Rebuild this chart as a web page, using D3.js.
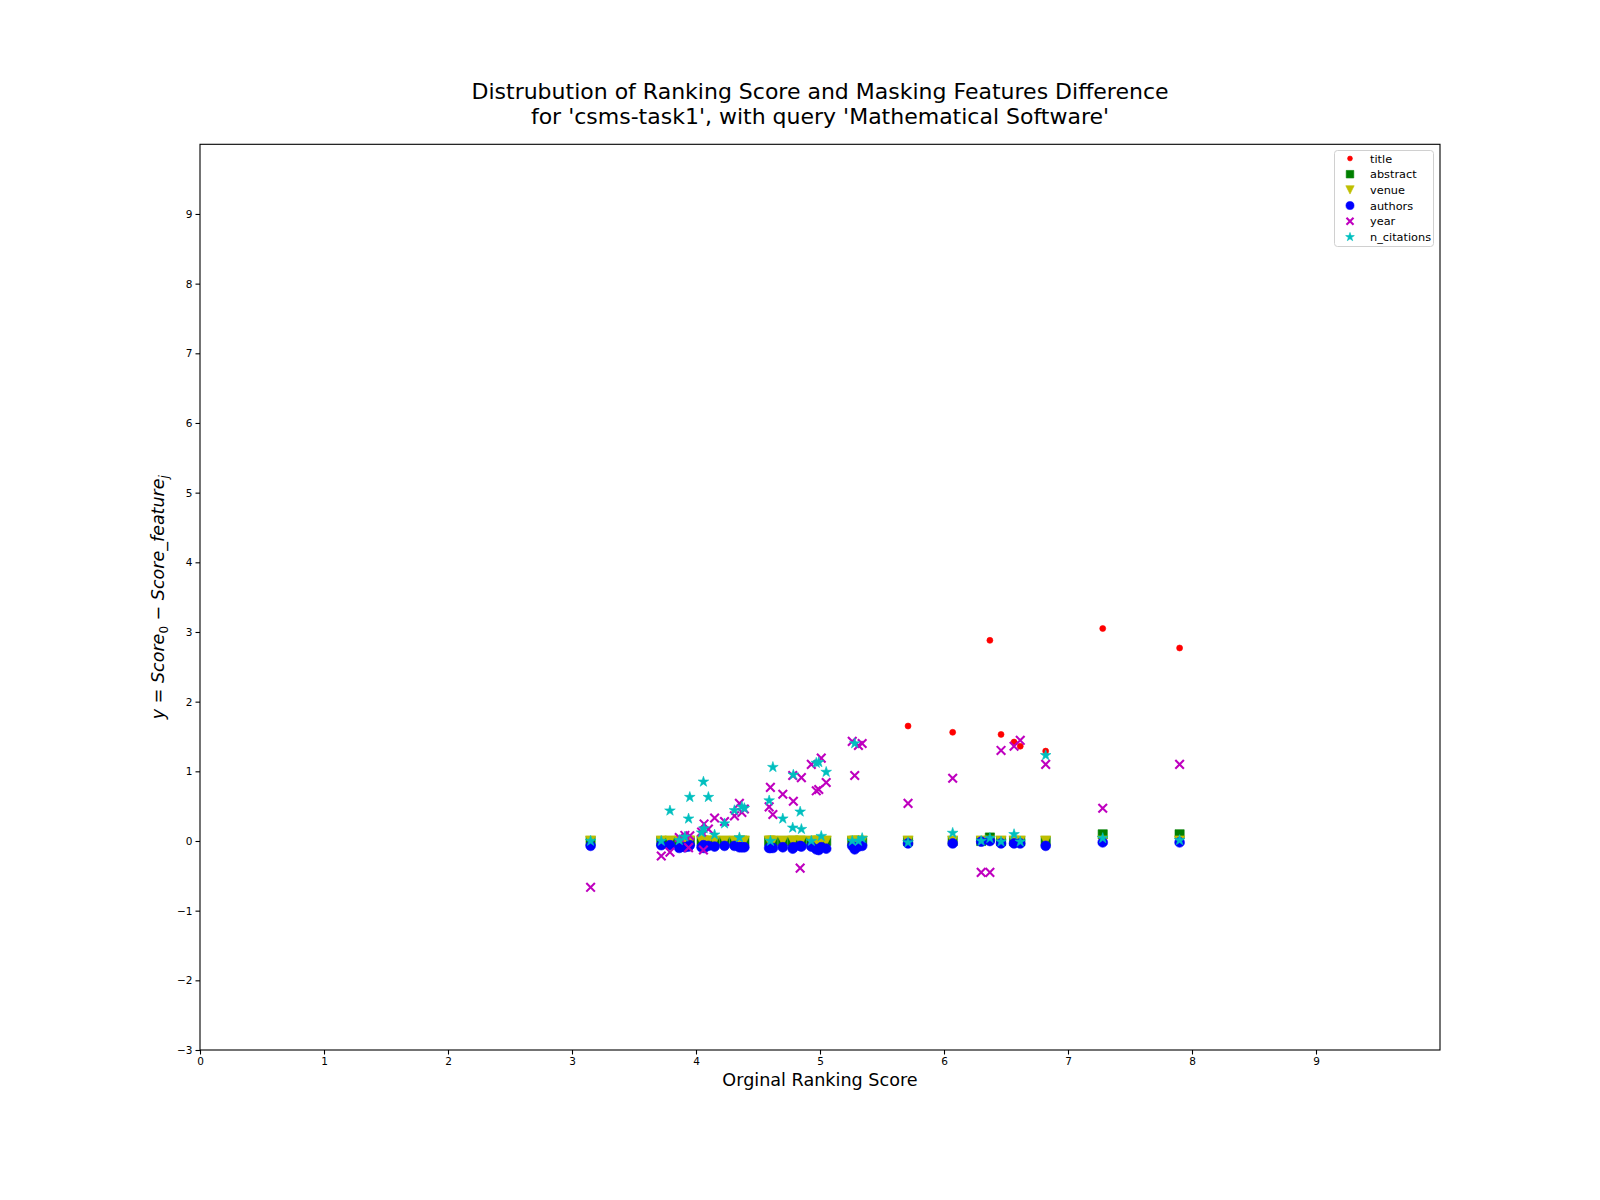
<!DOCTYPE html>
<html>
<head>
<meta charset="utf-8">
<script src="https://cdn.jsdelivr.net/npm/d3@7"></script>
<style>
  html, body { margin: 0; padding: 0; background: #fff; }
  svg text { font-family: "DejaVu Sans", sans-serif; }
</style>
</head>
<body>
<svg id="chart" width="1600" height="1200"></svg>
<script>
// ---------------- DATA ----------------
const xTicks = [0, 1, 2, 3, 4, 5, 6, 7, 8, 9];
const yTicks = [-3, -2, -1, 0, 1, 2, 3, 4, 5, 6, 7, 8, 9];

const scores = [3.15, 3.72, 3.79, 3.865, 3.91, 3.94, 3.95, 4.045, 4.06, 4.065, 4.10, 4.15, 4.23, 4.31, 4.35, 4.37, 4.39,
  4.59, 4.60, 4.62, 4.70, 4.78, 4.785, 4.84, 4.85, 4.93, 4.97, 4.99, 5.01, 5.05, 5.26, 5.28, 5.31, 5.34,
  5.71, 6.07, 6.30, 6.37, 6.46, 6.565, 6.615, 6.82, 7.28, 7.90];

const titleDiff = [0, 0, 0, 0, 0, 0, 0, 0, 0, 0, 0, 0, 0, 0, 0, 0, 0,
  0, 0, 0, 0, 0, 0, 0, 0, 0, 0, 0, 0, 0, 0, 0, 0, 0,
  1.65, 1.56, 0, 2.88, 1.53, 1.42, 1.36, 1.29, 3.05, 2.77];

const abstractDiff = [0, 0, 0, 0, 0, 0, 0, 0, 0, 0, 0, 0, 0, 0, 0, 0, 0,
  0, 0, 0, 0, 0, 0, 0, 0, 0, 0, 0, 0, 0, 0, 0, 0, 0,
  0, 0, 0, 0.05, 0, 0, 0, 0, 0.096, 0.096];

const venueDiff = [0, 0, 0, 0, 0, 0, 0, 0, 0, 0, 0, 0, 0, 0, 0, 0, 0,
  0, 0, 0, 0, 0, 0, 0, 0, 0, 0, 0, 0, 0, 0, 0, 0, 0,
  0, 0, 0, 0, 0, 0, 0, 0, 0, 0];

const authorsDiff = [-0.07, -0.06, -0.06, -0.10, -0.09, -0.08, -0.06, -0.09, -0.06, -0.10, -0.07, -0.08, -0.07, -0.07, -0.09, -0.09, -0.09,
  -0.10, -0.10, -0.10, -0.09, -0.11, -0.09, -0.07, -0.08, -0.08, -0.12, -0.13, -0.09, -0.11, -0.07, -0.12, -0.08, -0.07,
  -0.035, -0.035, -0.01, 0.0, -0.035, -0.035, -0.035, -0.07, -0.02, -0.02];

const yearDiff = [-0.665, -0.215, -0.16, 0.05, 0.08, -0.095, 0.075, 0.13, -0.13, 0.245, 0.17, 0.33, 0.28, 0.36, 0.54, 0.41, 0.46,
  0.49, 0.77, 0.38, 0.67, 0.94, 0.57, -0.39, 0.91, 1.10, 0.72, 0.74, 1.19, 0.84, 1.43, 0.94, 1.37, 1.40,
  0.54, 0.90, -0.45, -0.45, 1.30, 1.36, 1.445, 1.10, 0.47, 1.10];

const citationsDiff = [0.0, 0.0, 0.435, 0.01, 0.06, 0.32, 0.63, 0.12, 0.85, 0.18, 0.63, 0.09, 0.25, 0.44, 0.05, 0.49, 0.47,
  0.58, 0.0, 1.06, 0.32, 0.19, 0.95, 0.42, 0.17, 0.0, 1.12, 1.13, 0.07, 0.99, 0.0, 1.40, 0.0, 0.04,
  -0.02, 0.115, 0.0, 0.04, -0.01, 0.096, -0.01, 1.23, 0.04, 0.01];

const featureNames = ["title", "abstract", "venue", "authors", "year", "n_citations"];
const featureColors = ["#ff0000", "#008000", "#bfbf00", "#0000ff", "#bf00bf", "#00bfbf"];
const featureMarkers = ["point", "square", "triangleDown", "circle", "x", "star"];
const featureValues = [titleDiff, abstractDiff, venueDiff, authorsDiff, yearDiff, citationsDiff];

// ---------------- CHART ----------------
const svg = d3.select("#chart");
const L = 200, R = 1440, T = 144.3, B = 1050;
const x = d3.scaleLinear().domain([0, 10]).range([L, R]);
const y = d3.scaleLinear().domain([-3, 10]).range([B, T]);

function markerPath(type, s) {
  if (type === "point") { const r = 3.0 * s; return `M${r},0A${r},${r} 0 1,1 ${-r},0A${r},${r} 0 1,1 ${r},0Z`; }
  if (type === "circle") { const r = 4.9 * s; return `M${r},0A${r},${r} 0 1,1 ${-r},0A${r},${r} 0 1,1 ${r},0Z`; }
  if (type === "square") { const h = 4.6 * s; return `M${-h},${-h}H${h}V${h}H${-h}Z`; }
  if (type === "triangleDown") { const h = 5.1 * s; return `M0,${h}L${-h},${-h}L${h},${-h}Z`; }
  if (type === "x") { const a = 4.3 * s; return `M${-a},${-a}L${a},${a}M${-a},${a}L${a},${-a}`; }
  if (type === "star") {
    const Ro = 5.6 * s, Ri = Ro * 0.381966;
    let p = "";
    for (let i = 0; i < 10; i++) {
      const r = i % 2 === 0 ? Ro : Ri;
      const ang = -Math.PI / 2 + i * Math.PI / 5;
      p += (i === 0 ? "M" : "L") + (r * Math.cos(ang)).toFixed(3) + "," + (r * Math.sin(ang)).toFixed(3);
    }
    return p + "Z";
  }
}

function styleMarker(sel, type, color) {
  if (type === "x") sel.attr("fill", "none").attr("stroke", color).attr("stroke-width", 2.1).attr("stroke-linecap", "butt");
  else sel.attr("fill", color).attr("stroke", color).attr("stroke-width", 0.6);
}

svg.append("rect").attr("x", L).attr("y", T).attr("width", R - L).attr("height", B - T).attr("fill", "#fff");

// points
const gPts = svg.append("g");
featureNames.forEach((name, k) => {
  const data = scores.map((s, i) => ({ s, v: featureValues[k][i] }));
  const sel = gPts.append("g").attr("class", "series-" + name)
    .selectAll("path").data(data).join("path")
    .attr("d", markerPath(featureMarkers[k], 1))
    .attr("transform", d => `translate(${x(d.s)},${y(d.v)})`);
  styleMarker(sel, featureMarkers[k], featureColors[k]);
});

// axes
const xAxis = d3.axisBottom(x).tickValues(xTicks).tickSize(4.5).tickPadding(3).tickFormat(d3.format("d"));
const yAxis = d3.axisLeft(y).tickValues(yTicks).tickSize(4.5).tickPadding(3)
  .tickFormat(d => (d < 0 ? "\u2212" + Math.abs(d) : String(d)));

const gx = svg.append("g").attr("transform", `translate(0,${B})`).call(xAxis);
const gy = svg.append("g").attr("transform", `translate(${L},0)`).call(yAxis);
[gx, gy].forEach(g => {
  g.select(".domain").remove();
  g.selectAll(".tick line").attr("stroke", "#000").attr("stroke-width", 1.1);
  g.selectAll(".tick text").attr("fill", "#000").style("font-size", "10.5px").style("font-family", "DejaVu Sans");
});

// frame border
svg.append("rect").attr("x", L).attr("y", T).attr("width", R - L).attr("height", B - T)
  .attr("fill", "none").attr("stroke", "#000").attr("stroke-width", 1.1);

// title
const titleLines = ["Distrubution of Ranking Score and Masking Features Difference",
  "for 'csms-task1', with query 'Mathematical Software'"];
svg.append("g").selectAll("text").data(titleLines).join("text")
  .attr("x", (L + R) / 2).attr("y", (d, i) => 99 + i * 24.5)
  .attr("text-anchor", "middle").style("font-size", "22px").attr("fill", "#000")
  .text(d => d);

// x label
svg.append("text").attr("x", (L + R) / 2).attr("y", 1086)
  .attr("text-anchor", "middle").style("font-size", "17.6px").attr("fill", "#000")
  .text("Orginal Ranking Score");

// y label (math text)
const yl = svg.append("text").attr("transform", `translate(164,${(T + B) / 2}) rotate(-90)`)
  .attr("text-anchor", "middle").style("font-size", "17.5px").attr("fill", "#000");
yl.append("tspan").style("font-style", "italic").text("y");
yl.append("tspan").text(" = ");
yl.append("tspan").style("font-style", "italic").text("Score");
yl.append("tspan").attr("dy", 4).style("font-size", "12px").text("0");
yl.append("tspan").attr("dy", -4).text(" \u2212 ");
yl.append("tspan").style("font-style", "italic").text("Score_feature");
yl.append("tspan").attr("dy", 4).style("font-size", "12px").style("font-style", "italic").text("j");

// legend
const lg = svg.append("g");
lg.append("rect").attr("x", 1334.5).attr("y", 150.5).attr("width", 99).attr("height", 96).attr("rx", 3)
  .attr("fill", "#fff").attr("fill-opacity", 0.8).attr("stroke", "#d0d0d0").attr("stroke-width", 1);
featureNames.forEach((name, k) => {
  const cy = 158.5 + k * 15.7;
  const m = lg.append("path").attr("d", markerPath(featureMarkers[k], 0.82))
    .attr("transform", `translate(1350,${cy})`);
  styleMarker(m, featureMarkers[k], featureColors[k]);
  lg.append("text").attr("x", 1370).attr("y", cy + 4).style("font-size", "11.3px").attr("fill", "#000").text(name);
});
</script>
</body>
</html>
